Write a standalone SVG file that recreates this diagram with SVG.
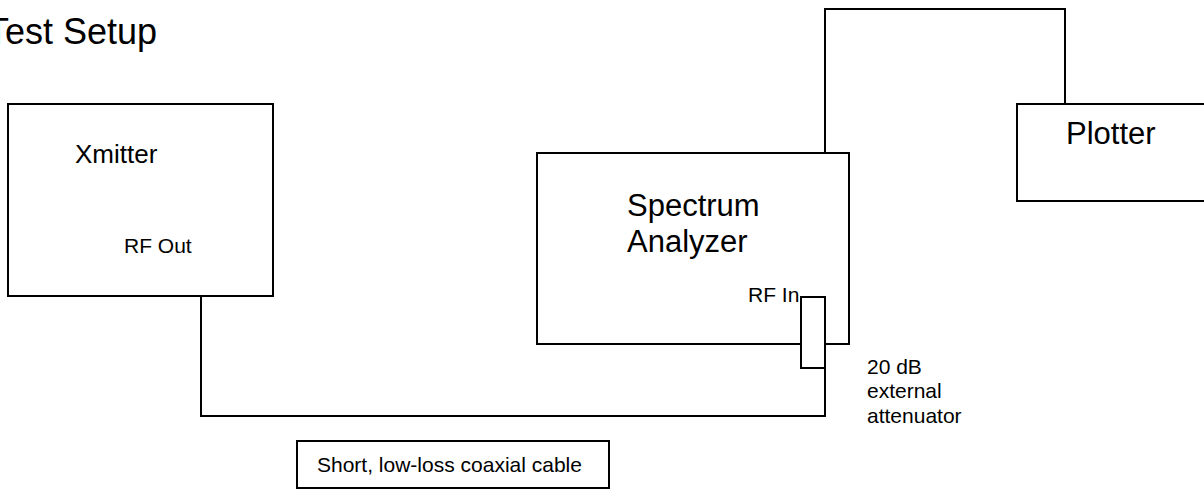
<svg xmlns="http://www.w3.org/2000/svg" width="1204" height="489" viewBox="0 0 1204 489">
<style>
.box{fill:#fff;stroke:#000;stroke-width:2}
.wire{fill:none;stroke:#000;stroke-width:2}
text{font-family:"Liberation Sans",Arial,sans-serif;fill:#000}
.sm{font-size:21px}
.md{font-size:26px}
.lg{font-size:31px}
</style>
<rect width="1204" height="489" fill="#fff"/>
<text x="-13" y="44" style="font-size:36px">Test Setup</text>
<g id="connectors">
<path class="wire" d="M201,273 V416 H825 V368"/>
<path class="wire" d="M825,153 V9 H1065 V104"/>
</g>
<g id="xmitter">
<rect class="box" x="8" y="104" width="265" height="192"/>
<text class="md" x="75" y="163">Xmitter</text>
<text class="sm" x="124" y="253">RF Out</text>
</g>
<g id="spectrum-analyzer">
<rect class="box" x="537" y="153" width="312" height="191"/>
<text class="lg" x="627" y="216">Spectrum</text>
<text class="lg" x="627" y="252">Analyzer</text>
<text class="sm" x="748" y="302">RF In</text>
</g>
<g id="attenuator">
<rect class="box" x="801" y="297" width="24" height="71"/>
<text class="sm"><tspan x="867" y="374">20 dB</tspan><tspan x="867" y="398">external</tspan><tspan x="867" y="423">attenuator</tspan></text>
</g>
<g id="plotter">
<rect class="box" x="1017" y="104" width="200" height="97"/>
<text class="lg" x="1066" y="144">Plotter</text>
</g>
<g id="cable-label">
<rect class="box" x="297" y="441" width="312" height="47"/>
<text class="sm" x="317" y="472">Short, low-loss coaxial cable</text>
</g>
</svg>
